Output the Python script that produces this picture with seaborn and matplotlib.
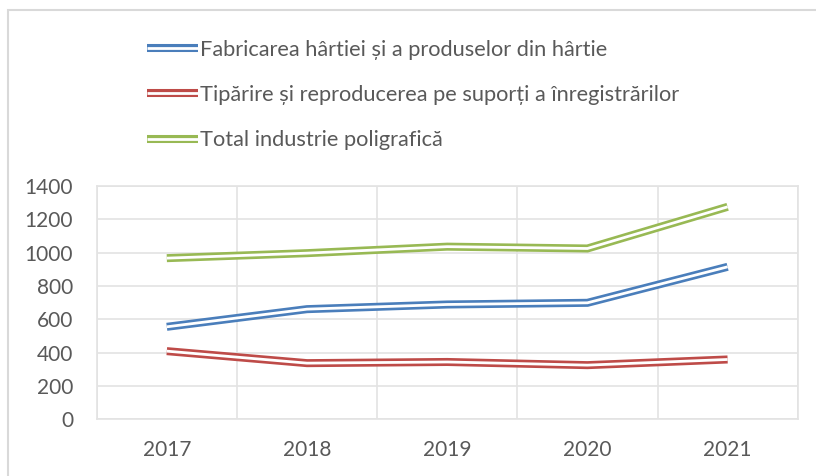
import numpy as np
import pandas as pd
import matplotlib
matplotlib.use('Agg')
import matplotlib.pyplot as plt
import matplotlib.patheffects as pe
from matplotlib.lines import Line2D
from matplotlib.patches import Rectangle
import seaborn as sns

# Data
years = ['2017', '2018', '2019', '2020', '2021']
fabricare = [555, 661, 689, 699, 915]
tiparire = [409, 337, 344, 325, 359]
total = [967, 997, 1036, 1025, 1275]

labels = ['Fabricarea hârtiei și a produselor din hârtie',
          'Tipărire și reproducerea pe suporți a înregistrărilor',
          'Total industrie poligrafică']
colors = ['#4A7EBB', '#BE4B48', '#98B954']
series = [fabricare, tiparire, total]

sns.set_style('white')
plt.rcParams['font.family'] = ['Lato', 'DejaVu Sans']
text_color = '#595959'
grid_color = '#E3E3E3'

W, H = 816, 476
fig = plt.figure(figsize=(W / 100, H / 100), dpi=100)
ax = fig.add_axes([96.7 / W, (H - 419.3) / H, (797.7 - 96.7) / W, (419.3 - 186) / H])

# double ("compound") lines: colored thick stroke with a thin white core
outer, inner = 5.8, 2.0
handles = []
for vals, c, lab in zip(series, colors, labels):
    effects = [pe.Stroke(linewidth=outer, foreground=c), pe.Normal()]
    sns.lineplot(x=np.arange(len(years)), y=vals, ax=ax, color='white', lw=inner,
                 path_effects=effects, solid_joinstyle='miter', solid_capstyle='butt')
    handles.append(Line2D([0], [0], color='white', lw=inner, path_effects=effects,
                          solid_capstyle='butt'))

ax.set_xlim(-0.5, len(years) - 0.5)
ax.set_ylim(0, 1400)
ax.set_yticks(range(0, 1401, 200))
ax.set_xticks(range(len(years)))
ax.set_xticklabels(years)
ax.set_xticks(np.arange(-0.5, len(years)), minor=True)
ax.grid(False)
ax.grid(True, axis='y', which='major', color=grid_color, lw=1.2)
ax.grid(True, axis='x', which='minor', color=grid_color, lw=1.2)
ax.tick_params(which='both', length=0)
ax.tick_params(axis='y', pad=17, labelsize=15, labelcolor=text_color)
ax.tick_params(axis='x', pad=15, labelsize=15, labelcolor=text_color)
ax.set_xlabel('')
ax.set_ylabel('')
for s in ax.spines.values():
    s.set_color(grid_color)
    s.set_linewidth(1.2)

fig.legend(handles, labels, loc='upper left', bbox_to_anchor=(147 / W, (H - 40) / H),
           frameon=False, fontsize=15.7, labelcolor=text_color, handlelength=2.34,
           handletextpad=0.1, labelspacing=1.15, borderpad=0, borderaxespad=0)

# outer chart border (cut off at right and bottom like the screenshot)
fig.patches.append(Rectangle((8 / W, -0.1), 1.2, (H - 10) / H + 0.1, transform=fig.transFigure,
                             fill=False, edgecolor='#D9D9D9', lw=1.5))

fig.savefig('out.png', dpi=100)
